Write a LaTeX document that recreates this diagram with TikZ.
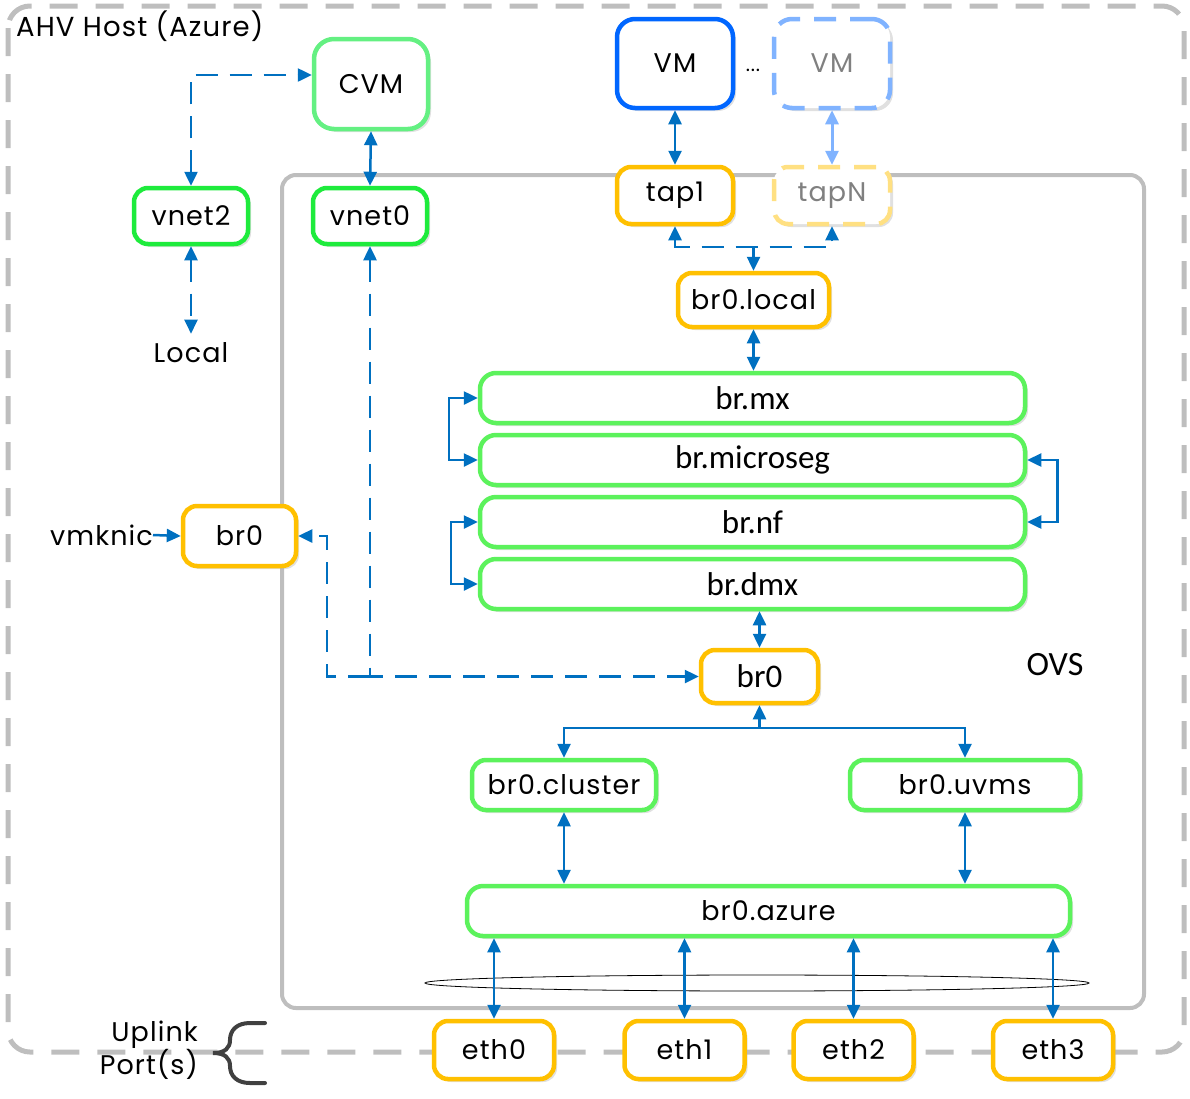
\documentclass[tikz,border=0pt]{standalone}
\usepackage{fontspec}
\setmainfont{Poppins}[LetterSpace=4]
\newfontfamily\calfont{Carlito}
\usetikzlibrary{arrows.meta,shadows,calc}
\definecolor{gvnet}{RGB}{30,235,60}
\definecolor{gbr}{RGB}{92,242,92}
\definecolor{gcvm}{RGB}{100,240,130}
\definecolor{orng}{RGB}{255,192,0}
\definecolor{lorng}{RGB}{255,224,130}
\definecolor{vmblue}{RGB}{0,102,255}
\definecolor{lvmblue}{RGB}{128,179,255}
\definecolor{arrblue}{RGB}{0,112,192}
\definecolor{hostgray}{RGB}{190,190,190}
\definecolor{bracegray}{RGB}{64,64,64}
\definecolor{txtgray}{RGB}{128,128,128}
\tikzset{
  nbox/.style={draw, line width=4.5pt, rounded corners=14pt, fill=white, inner sep=0pt,
    font=\fontsize{27}{31}\selectfont,
    drop shadow={shadow xshift=3pt, shadow yshift=-3pt, fill=black!30, opacity=0.4}},
  vnetbox/.style={nbox, draw=gvnet, minimum width=114pt, minimum height=56pt},
  brbox/.style={nbox, draw=gbr, minimum width=545pt, minimum height=50pt, rounded corners=16pt,
    font=\calfont\fontsize{33}{36}\selectfont},
  obox/.style={nbox, draw=orng},
  ethbox/.style={obox, minimum width=120pt, minimum height=58pt},
  lbl/.style={font=\fontsize{27}{31}\selectfont, inner sep=0pt},
  arr/.style={draw=arrblue, line width=2.5pt},
  darr/.style={arr, dash pattern=on 22pt off 12pt},
}
\begin{document}
\begin{tikzpicture}[x=1pt,y=-1pt,>={Triangle[length=14pt,width=13pt]}]
\useasboundingbox (0,0) rectangle (1190,1098);
% host
\draw[hostgray, line width=5pt, dash pattern=on 28pt off 18pt, rounded corners=22pt] (8,6) rectangle (1184,1052);
\node[anchor=west, font=\fontsize{27.5}{31}\selectfont, inner sep=0pt] (host) at (16,26) {AHV Host (Azure)};
% OVS
\draw[hostgray, line width=4pt, rounded corners=14pt] (282,175) rectangle (1144,1008);
\node[font=\calfont\fontsize{34}{38}\selectfont] (ovs) at (1055,665) {OVS};
% ellipse
\draw[black, line width=0.8pt] (757,983) ellipse [x radius=332, y radius=8];

% nodes
\node[nbox, draw=gcvm, minimum width=114pt, minimum height=90pt, rounded corners=20pt] (cvm) at (371,84) {CVM};
\node[vnetbox] (vnet2) at (191,216) {vnet2};
\node[vnetbox] (vnet0) at (370,216) {vnet0};
\node[lbl] (local) at (191,353) {Local};
\node[nbox, draw=vmblue, minimum width=116pt, minimum height=89pt, rounded corners=18pt] (vm1) at (675,63.5) {VM};
\node[lbl, font=\fontsize{20}{22}\selectfont] (dots) at (753,70) {...};
\node[nbox, draw=lvmblue, dash pattern=on 22pt off 14pt, text=txtgray, minimum width=116pt, minimum height=89pt, rounded corners=18pt] (vm2) at (832,63.5) {VM};
\node[obox, minimum width=116pt, minimum height=57pt] (tap1) at (675,195.5) {tap1};
\node[nbox, draw=lorng, dash pattern=on 22pt off 14pt, text=txtgray, minimum width=116pt, minimum height=57pt] (tapN) at (832,195.5) {tapN};
\node[obox, minimum width=151pt, minimum height=54pt] (br0local) at (753.5,300) {br0.local};
\node[brbox] (brmx) at (752.5,398) {br.mx};
\node[brbox] (brmicroseg) at (752.5,460) {br.microseg};
\node[brbox] (brnf) at (752.5,522) {br.nf};
\node[brbox] (brdmx) at (752.5,584) {br.dmx};
\node[obox, minimum width=117pt, minimum height=53pt, font=\calfont\fontsize{33}{36}\selectfont] (br0) at (759.5,676.5) {br0};
\node[nbox, draw=gbr, minimum width=184pt, minimum height=50pt] (cluster) at (564,785) {br0.cluster};
\node[nbox, draw=gbr, minimum width=230pt, minimum height=50pt] (uvms) at (965,785) {br0.uvms};
\node[nbox, draw=gbr, minimum width=603pt, minimum height=50pt, rounded corners=16pt] (azure) at (768.5,911) {br0.azure};
\node[ethbox] (eth0) at (494,1050) {eth0};
\node[ethbox] (eth1) at (684.5,1050) {eth1};
\node[ethbox] (eth2) at (853.5,1050) {eth2};
\node[ethbox] (eth3) at (1053,1050) {eth3};
\node[obox, minimum width=113pt, minimum height=60pt] (br0left) at (239.5,536) {br0};
\node[lbl, anchor=east] (vmknic) at (153,535) {vmknic};
\node[lbl, anchor=east, align=right, font=\fontsize{27}{33}\selectfont] (uplink) at (198,1050) {Uplink\\Port(s)};

% brace
\draw[bracegray, line width=4pt, line cap=round] (265,1023) -- (250,1023)
  .. controls (237,1023) and (230,1030) .. (230,1040)
  .. controls (230,1048) and (225,1053) .. (213,1053)
  .. controls (225,1053) and (230,1058) .. (230,1066)
  .. controls (230,1076) and (237,1083) .. (250,1083) -- (265,1083);

% connectors
\coordinate (c1) at (0,75);
\draw[darr, <->] (vnet2.north) |- (cvm.west|-c1);
\draw[arr, <->] (cvm.south) -- (vnet0.north);
\draw[darr, <->] (vnet2.south) -- ([yshift=9pt]local.north);
\draw[darr, <->] (vnet0.south) |- (br0.west);
\coordinate (j1) at (370,676.5);
\draw[darr, ->] (j1) -- (327,676.5) |- (br0left.east);
\draw[arr, ->] (vmknic.east) -- (br0left.west);
\draw[arr, <->] (vm1.south) -- (tap1.north);
\draw[draw=lvmblue, line width=3pt, <->] (vm2.south) -- (tapN.north);
\coordinate (t) at (0,247);
\draw[darr, <->] (tap1.south) -- (tap1.south|-t) -- (tapN.south|-t) -- (tapN.south);
\draw[arr, ->] (br0local.north|-t) -- (br0local.north);
\draw[arr, <->] (br0local.south) -- (br0local.south|-brmx.north);
\draw[arr, <->] (brmx.west) -- ++(-29,0) |- (brmicroseg.west);
\draw[arr, <->] (brmicroseg.east) -- ++(30,0) |- (brnf.east);
\draw[arr, <->] (brnf.west) -- ++(-27,0) |- (brdmx.west);
\draw[arr, <->] (br0.north|-brdmx.south) -- (br0.north);
\coordinate (h) at (0,728);
\draw[arr, ->] (br0.south|-h) -- (br0.south);
\draw[arr, <->] (cluster.north) -- (cluster.north|-h) -- (uvms.north|-h) -- (uvms.north);
\draw[arr, <->] (cluster.south) -- (cluster.south|-azure.north);
\draw[arr, <->] (uvms.south) -- (uvms.south|-azure.north);
\draw[arr, <->] (eth0.north|-azure.south) -- (eth0.north);
\draw[arr, <->] (eth1.north|-azure.south) -- (eth1.north);
\draw[arr, <->] (eth2.north|-azure.south) -- (eth2.north);
\draw[arr, <->] (eth3.north|-azure.south) -- (eth3.north);
\end{tikzpicture}
\end{document}
